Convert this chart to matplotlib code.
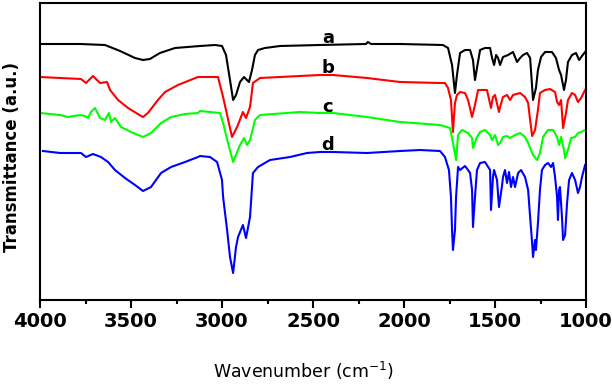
import matplotlib
matplotlib.use("Agg")
import matplotlib.pyplot as plt
from matplotlib.ticker import MultipleLocator

# FTIR spectra (wavenumber in cm-1, transmittance in a.u.)
wn_a = [4000, 3780, 3643, 3560, 3478, 3434, 3396, 3341, 3258, 3121, 3038, 3000, 2978, 2956,
        2939, 2923, 2901, 2879, 2863, 2852, 2835, 2819, 2802, 2764, 2681, 2462, 2209, 2198,
        2181, 2022, 1786, 1758, 1736, 1720, 1709, 1692, 1665, 1637, 1621, 1610, 1599, 1582,
        1555, 1527, 1516, 1505, 1494, 1483, 1472, 1456, 1428, 1401, 1379, 1362, 1346, 1324,
        1307, 1291, 1275, 1264, 1247, 1225, 1187, 1165, 1148, 1137, 1121, 1110, 1099, 1077,
        1055, 1038, 1022, 1005]
t_a = [256, 256, 255, 249, 242, 240, 241, 247, 252, 254, 255, 254, 245, 220,
       200, 205, 218, 223, 220, 218, 230, 245, 250, 252, 254, 255, 256, 258,
       256, 256, 255, 252, 235, 207, 225, 247, 250, 250, 240, 220, 232, 250,
       252, 252, 242, 235, 245, 242, 235, 243, 245, 248, 238, 242, 245, 247,
       242, 200, 212, 230, 243, 248, 248, 242, 230, 225, 210, 220, 238, 245,
       247, 240, 244, 248]

wn_b = [4000, 3775, 3747, 3709, 3670, 3632, 3615, 3571, 3516, 3445, 3434, 3407, 3352, 3313,
        3242, 3132, 3066, 3022, 2994, 2945, 2917, 2885, 2868, 2846, 2830, 2791, 2462, 2390,
        2203, 2022, 1802, 1775, 1758, 1742, 1731, 1720, 1709, 1692, 1665, 1648, 1626, 1610,
        1593, 1555, 1544, 1522, 1511, 1500, 1478, 1472, 1456, 1434, 1417, 1401, 1362, 1335,
        1318, 1307, 1296, 1280, 1264, 1253, 1225, 1198, 1170, 1159, 1148, 1137, 1126, 1110,
        1099, 1077, 1060, 1044, 1027, 1005]
t_b = [223, 221, 217, 224, 217, 218, 210, 200, 192, 184, 183, 187, 200, 208,
       215, 223, 223, 223, 203, 163, 173, 188, 182, 193, 217, 222, 225, 225,
       222, 218, 217, 217, 212, 200, 168, 197, 205, 208, 207, 200, 183, 195,
       210, 210, 210, 192, 203, 205, 188, 193, 203, 205, 200, 205, 207, 203,
       197, 180, 164, 170, 190, 207, 210, 211, 208, 198, 195, 200, 172, 187,
       200, 207, 205, 198, 202, 210]

wn_c = [4000, 3890, 3846, 3780, 3753, 3736, 3720, 3698, 3670, 3643, 3621, 3610, 3588, 3555,
        3500, 3434, 3390, 3335, 3280, 3203, 3132, 3121, 3011, 2994, 2967, 2939, 2917, 2901,
        2879, 2863, 2846, 2819, 2791, 2571, 2462, 2390, 2203, 2022, 1802, 1747, 1731, 1714,
        1703, 1681, 1648, 1626, 1621, 1599, 1582, 1555, 1527, 1516, 1500, 1483, 1472, 1456,
        1434, 1417, 1390, 1362, 1335, 1318, 1291, 1269, 1253, 1236, 1209, 1181, 1159, 1148,
        1137, 1121, 1115, 1099, 1082, 1060, 1044, 1027, 1005]
t_c = [187, 185, 183, 185, 184, 182, 188, 192, 182, 180, 187, 178, 182, 173,
       168, 163, 167, 177, 183, 186, 187, 189, 187, 177, 157, 138, 148, 155,
       162, 155, 160, 180, 185, 188, 187, 187, 183, 178, 175, 172, 157, 140,
       165, 170, 167, 162, 152, 163, 168, 170, 165, 160, 165, 155, 157, 163,
       164, 162, 165, 167, 163, 157, 145, 140, 147, 163, 170, 170, 163, 155,
       163, 150, 142, 150, 162, 163, 167, 168, 170]

wn_d = [3984, 3890, 3830, 3775, 3747, 3709, 3665, 3626, 3588, 3533, 3478, 3434, 3390, 3335,
        3280, 3203, 3132, 3121, 3066, 3027, 3000, 2994, 2972, 2956, 2939, 2923, 2912, 2885,
        2868, 2846, 2830, 2802, 2736, 2626, 2533, 2462, 2390, 2203, 2022, 1912, 1802, 1775,
        1753, 1742, 1736, 1731, 1720, 1714, 1703, 1692, 1665, 1648, 1637, 1626, 1621, 1610,
        1599, 1582, 1555, 1527, 1522, 1511, 1505, 1489, 1478, 1461, 1456, 1445, 1434, 1423,
        1412, 1401, 1390, 1373, 1357, 1335, 1318, 1307, 1296, 1291, 1280, 1275, 1264, 1253,
        1242, 1225, 1209, 1192, 1181, 1170, 1159, 1154, 1148, 1143, 1132, 1126, 1115, 1104,
        1093, 1077, 1060, 1044, 1033, 1022, 1005]
t_d = [149, 147, 147, 147, 143, 146, 143, 138, 130, 122, 115, 109, 113, 127,
       133, 138, 143, 144, 143, 138, 120, 103, 70, 43, 27, 53, 63, 75,
       62, 83, 127, 133, 140, 143, 147, 148, 148, 147, 149, 150, 149, 143,
       130, 103, 70, 50, 70, 103, 133, 130, 134, 130, 127, 110, 73, 103,
       130, 137, 138, 130, 90, 123, 130, 120, 93, 115, 123, 130, 117, 128,
       113, 123, 113, 127, 130, 123, 110, 83, 57, 43, 60, 50, 77, 110,
       130, 135, 137, 133, 137, 123, 103, 80, 110, 113, 83, 60, 65, 97,
       120, 127, 120, 107, 113, 123, 135]

series = [
    (wn_a, t_a, "black", "a"),
    (wn_b, t_b, "#ff0000", "b"),
    (wn_c, t_c, "#00ff00", "c"),
    (wn_d, t_d, "#0000ff", "d"),
]
label_pos = {"a": (2417, 257), "b": (2417, 227), "c": (2420, 188), "d": (2417, 150)}

fig = plt.figure(figsize=(6.12, 3.84), dpi=100)
ax = fig.add_axes([40 / 612, 84 / 384, 546 / 612, 297 / 384])

for wn, t, color, name in series:
    ax.plot(wn, t, color=color, lw=1.5)
    x, y = label_pos[name]
    ax.text(x, y, name, ha="center", va="baseline", fontsize=13,
            fontweight="bold", color="black")

ax.set_xlim(4000, 1000)
ax.set_ylim(0, 297)
ax.xaxis.set_major_locator(MultipleLocator(500))
ax.xaxis.set_minor_locator(MultipleLocator(250))
ax.set_yticks([])
ax.tick_params(axis="x", which="major", direction="out", length=5.5, width=1.5,
               pad=3, labelsize=14)
ax.tick_params(axis="x", which="minor", direction="out", length=3, width=1.5)
for lab in ax.get_xticklabels():
    lab.set_fontweight("bold")
for sp in ax.spines.values():
    sp.set_linewidth(1.5)

ax.set_xlabel("Wavenumber (cm$^{-1}$)", fontsize=12.5)
ax.xaxis.label.set_va("center")
ax.xaxis.set_label_coords(0.4835, -0.239)
ax.set_ylabel("Transmittance (a.u.)", fontsize=12, fontweight="bold")
ax.yaxis.label.set_va("center")
ax.yaxis.set_label_coords(-0.0513, 0.4815)

fig.savefig("out.png", dpi=100)
